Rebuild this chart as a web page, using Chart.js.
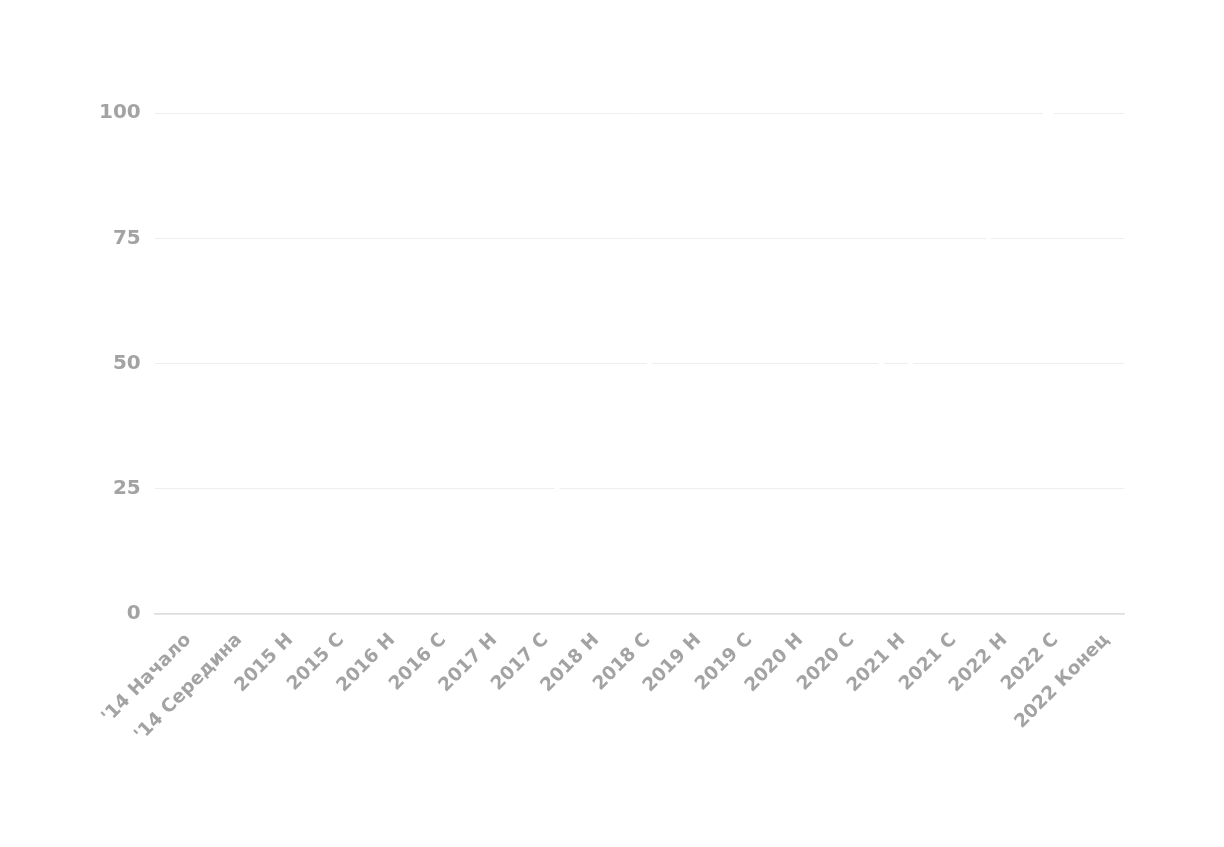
<!DOCTYPE html>
<html>
<head>
<meta charset="utf-8">
<script src="https://cdn.jsdelivr.net/npm/chart.js@4"></script>
<style>
  html, body { margin: 0; padding: 0; background: #ffffff; }
</style>
</head>
<body>
<canvas id="c" width="1224" height="847"></canvas>
<script>
const categories = ["'14 Начало", "'14 Середина", "2015 Н", "2015 С", "2016 Н", "2016 С", "2017 Н", "2017 С", "2018 Н", "2018 С", "2019 Н", "2019 С", "2020 Н", "2020 С", "2021 Н", "2021 С", "2022 Н", "2022 С", "2022 Конец"];
const seriesValues = [5, 6, 7, 8, 10, 12, 15, 20, 35, 48, 56, 58, 60, 60, 48, 60, 78, 100, 85];
const tickValues = [0, 25, 50, 75, 100];

const fontFamily = "'DejaVu Sans', 'Open Sans', sans-serif";
new Chart(document.getElementById('c'), {
  type: 'line',
  data: {
    labels: categories,
    datasets: [{
      data: seriesValues,
      borderColor: '#ffffff',
      borderWidth: 4,
      pointRadius: 0,
      tension: 0.3,
      fill: false
    }]
  },
  options: {
    responsive: false,
    animation: false,
    layout: { padding: { top: 113, left: 85, right: 100, bottom: 86 } },
    plugins: { legend: { display: false }, tooltip: { enabled: false } },
    scales: {
      x: {
        offset: true,
        grid: { display: false, drawTicks: false },
        border: { display: true, color: '#dedede', width: 1.5 },
        ticks: {
          color: '#a3a3a3',
          font: { family: fontFamily, size: 18.5, weight: 'bold' },
          minRotation: 45, maxRotation: 45, autoSkip: false, padding: 15,
          labelOffset: 8
        }
      },
      y: {
        min: 0, max: 100,
        afterBuildTicks: (axis) => { axis.ticks = tickValues.map(v => ({ value: v })); },
        grid: { color: '#eeeeee', drawTicks: false, lineWidth: 1 },
        border: { display: false },
        ticks: {
          color: '#a3a3a3',
          font: { family: fontFamily, size: 20, weight: 'bold' },
          padding: 14
        }
      }
    }
  }
});
</script>
</body>
</html>
